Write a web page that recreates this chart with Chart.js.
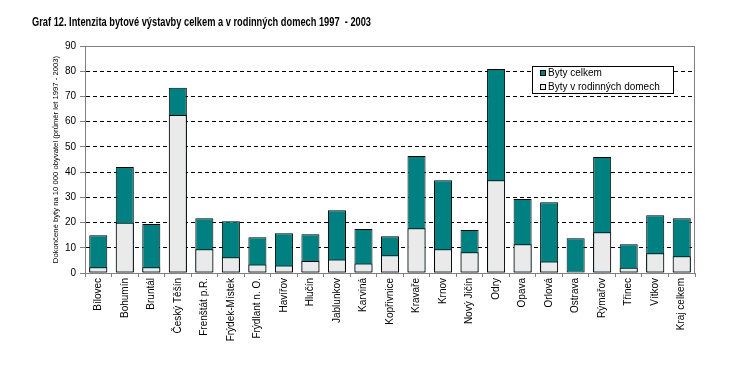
<!DOCTYPE html>
<html>
<head>
<meta charset="utf-8">
<script src="https://cdn.jsdelivr.net/npm/chart.js@4"></script>
<style>
  body { margin: 0; background: #fff; }
  #wrap { width: 743px; height: 365px; }
</style>
</head>
<body>
<div id="wrap"><canvas id="graf" width="743" height="365"></canvas></div>
<script>
const titleText = 'Graf 12. Intenzita bytové výstavby celkem a v rodinných domech 1997  - 2003';
const yTitle = 'Dokončené byty na 10 000 obyvatel (průměr let 1997 - 2003)';

const categories = ['Bílovec', 'Bohumín', 'Bruntál', 'Český Těšín', 'Frenštát p.R.', 'Frýdek-Místek',
  'Frýdlant n. O.', 'Havířov', 'Hlučín', 'Jablunkov', 'Karviná', 'Kopřivnice', 'Kravaře', 'Krnov',
  'Nový Jičín', 'Odry', 'Opava', 'Orlová', 'Ostrava', 'Rýmařov', 'Třinec', 'Vítkov', 'Kraj celkem'];

const bytyCelkem = [15.0, 42.0, 19.4, 73.4, 21.7, 20.5, 14.2, 15.8, 15.4, 24.9, 17.4, 14.6,
  46.4, 36.8, 17.0, 80.9, 29.3, 28.1, 13.8, 46.0, 11.4, 22.9, 21.7];
const bytyRD = [2.3, 19.9, 2.3, 62.6, 9.4, 6.2, 3.4, 3.0, 4.8, 5.4, 3.8, 7.0,
  17.7, 9.4, 8.2, 36.8, 11.4, 4.6, 0.3, 16.2, 2.1, 7.8, 6.6];

const yTicks = [0, 10, 20, 30, 40, 50, 60, 70, 80, 90];

// title drawn at fixed spot, squeezed to the narrow look of the original
const headerPlugin = {
  id: 'header',
  afterDraw(chart) {
    const ctx = chart.ctx;
    ctx.save();
    ctx.font = 'bold 13px "Liberation Sans Narrow", "Liberation Sans", Arial, sans-serif';
    ctx.fillStyle = '#000';
    ctx.textBaseline = 'middle';
    const w = ctx.measureText(titleText).width;
    ctx.translate(32, 22);
    ctx.scale(339 / w, 1);
    ctx.fillText(titleText, 0, 0);
    ctx.restore();
  }
};

// gray frame around plot area
const framePlugin = {
  id: 'frame',
  beforeDatasetsDraw(chart) {
    const { ctx, chartArea: a } = chart;
    ctx.save();
    ctx.strokeStyle = '#808080';
    ctx.lineWidth = 1;
    ctx.strokeRect(a.left + 0.5, a.top + 0.5, a.right - a.left - 1, a.bottom - a.top);
    ctx.restore();
  }
};

// boxed legend inside the plot, top right
const boxLegend = {
  id: 'boxLegend',
  afterDraw(chart) {
    const { ctx, chartArea: a } = chart;
    const x0 = a.right - 163, y0 = a.top + 20, w = 141, h = 27;
    ctx.save();
    ctx.fillStyle = '#fff';
    ctx.fillRect(x0, y0, w, h);
    ctx.strokeStyle = '#000';
    ctx.lineWidth = 1;
    ctx.strokeRect(x0 + 0.5, y0 + 0.5, w, h);
    ctx.font = '10px "Liberation Sans", Arial, sans-serif';
    ctx.textBaseline = 'middle';
    chart.data.datasets.forEach((ds, i) => {
      const cy = y0 + 7 + i * 14;
      ctx.fillStyle = ds.backgroundColor;
      ctx.fillRect(x0 + 8, cy - 3, 6, 6);
      ctx.strokeRect(x0 + 8.5, cy - 2.5, 5, 5);
      ctx.fillStyle = '#000';
      ctx.fillText(ds.label, x0 + 16, cy);
    });
    ctx.restore();
  }
};

new Chart(document.getElementById('graf'), {
  type: 'bar',
  data: {
    labels: categories,
    datasets: [
      {
        label: 'Byty celkem',
        data: bytyCelkem,
        backgroundColor: '#008080',
        borderColor: '#000',
        borderWidth: 1,
        borderSkipped: false,
        grouped: false,
        order: 1,
      },
      {
        label: 'Byty v rodinných domech',
        data: bytyRD,
        backgroundColor: '#EAEAEA',
        borderColor: '#000',
        borderWidth: 1,
        borderSkipped: false,
        grouped: false,
        order: 0,
      },
    ],
  },
  options: {
    responsive: false,
    animation: false,
    barPercentage: 0.68,
    categoryPercentage: 1,
    layout: { padding: { top: 46, left: 48, right: 48, bottom: 0 } },
    plugins: {
      legend: { display: false },
      title: { display: false },
      tooltip: { enabled: false },
    },
    scales: {
      x: {
        afterFit: (s) => { s.height = 92; },
        grid: {
          offset: true,
          drawOnChartArea: false,
          tickLength: 4,
          tickColor: '#808080',
        },
        border: { color: '#808080' },
        ticks: {
          autoSkip: false,
          minRotation: 90,
          maxRotation: 90,
          padding: 1,
          color: '#000',
          font: { family: '"Liberation Sans", Arial, sans-serif', size: 10 },
        },
      },
      y: {
        min: 0,
        max: 90,
        afterFit: (s) => { s.width = 37; },
        afterBuildTicks: (s) => { s.ticks = yTicks.map((v) => ({ value: v })); },
        grid: {
          color: (c) => (c.tick && (c.tick.value === 0 || c.tick.value === 90)) ? 'rgba(0,0,0,0)' : '#000',
          tickColor: '#808080',
          tickLength: 5,
        },
        border: { color: '#808080', dash: [4, 3] },
        ticks: {
          padding: 4,
          color: '#000',
          font: { family: '"Liberation Sans", Arial, sans-serif', size: 10 },
        },
        title: {
          display: true,
          text: yTitle,
          padding: { top: 3, bottom: 0 },
          color: '#000',
          font: { family: '"Liberation Sans Narrow", "Liberation Sans", Arial, sans-serif', size: 7.7 },
        },
      },
    },
  },
  plugins: [headerPlugin, framePlugin, boxLegend],
});
</script>
</body>
</html>
